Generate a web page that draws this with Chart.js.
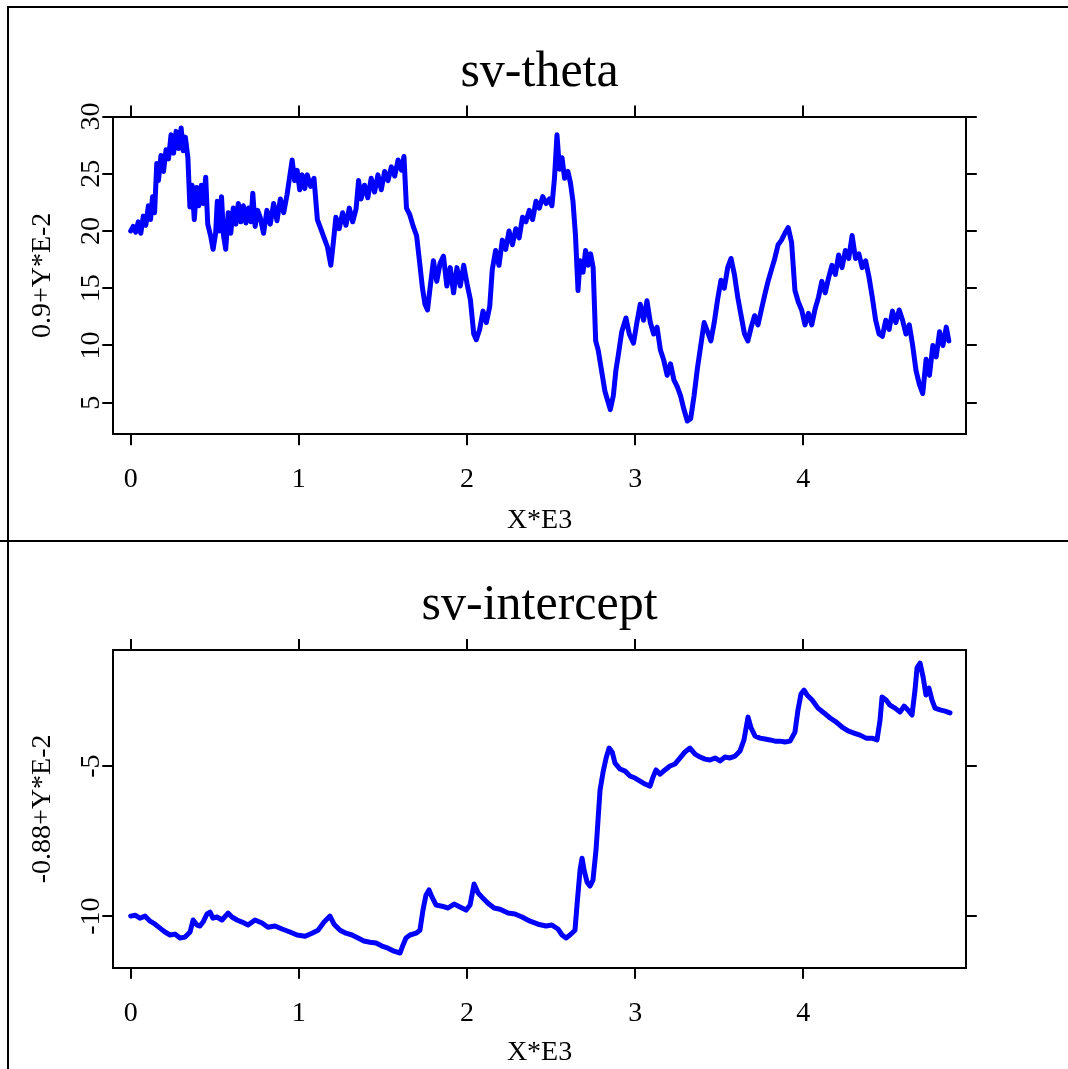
<!DOCTYPE html>
<html lang="en">
  <head>
    <meta charset="UTF-8" />
    <title>sv-theta / sv-intercept</title>
    <script src="https://cdn.jsdelivr.net/npm/chart.js@4.4.1/dist/chart.umd.min.js"></script>
    <style>
      body {
        margin: 0;
        background: #ffffff;
      }
      #page {
        position: relative;
        width: 1068px;
        height: 1069px;
        overflow: hidden;
      }
      .panel {
        position: absolute;
        left: 0;
        width: 1068px;
      }
      #top-panel {
        top: 0;
        height: 541px;
      }
      #bottom-panel {
        top: 541px;
        height: 528px;
      }
      .rule {
        position: absolute;
        background: #000000;
      }
    </style>
  </head>
  <body>
    <div id="page">
      <div class="rule" style="left: 7px; top: 6px; width: 1061px; height: 2px"></div>
      <div class="rule" style="left: 7px; top: 6px; width: 2px; height: 1063px"></div>
      <div class="rule" style="left: 0; top: 540px; width: 1068px; height: 2px"></div>
      <div class="panel" id="top-panel"><canvas id="thetaChart"></canvas></div>
      <div class="panel" id="bottom-panel"><canvas id="interceptChart"></canvas></div>
    </div>

    <script>
      // iteration (thousands) and sampled values
      const thetaX = [
        0.0, 0.015, 0.03, 0.045, 0.06, 0.075, 0.09, 0.105, 0.118, 0.13, 0.142, 0.155, 0.165, 0.18, 0.195,
        0.21, 0.225, 0.24, 0.255, 0.27, 0.285, 0.3, 0.312, 0.325, 0.34, 0.352, 0.365, 0.378, 0.392, 0.405,
        0.42, 0.432, 0.446, 0.458, 0.475, 0.49, 0.505, 0.515, 0.528, 0.54, 0.552, 0.565, 0.58, 0.595, 0.61,
        0.625, 0.64, 0.655, 0.67, 0.685, 0.7, 0.715, 0.726, 0.74, 0.755, 0.77, 0.79, 0.81, 0.83, 0.85,
        0.87, 0.89, 0.91, 0.93, 0.96, 0.975, 0.99, 1.005, 1.02, 1.035, 1.05, 1.07, 1.09, 1.11, 1.13,
        1.15, 1.17, 1.19, 1.205, 1.22, 1.24, 1.26, 1.28, 1.3, 1.32, 1.34, 1.355, 1.37, 1.39, 1.41,
        1.43, 1.45, 1.47, 1.49, 1.51, 1.53, 1.55, 1.57, 1.59, 1.61, 1.625, 1.64, 1.66, 1.68, 1.7,
        1.72, 1.735, 1.75, 1.765, 1.78, 1.8, 1.82, 1.84, 1.86, 1.88, 1.9, 1.92, 1.94, 1.96, 1.98,
        2.0, 2.02, 2.04, 2.055, 2.075, 2.095, 2.115, 2.135, 2.15, 2.17, 2.19, 2.21, 2.23, 2.25, 2.27,
        2.29, 2.31, 2.33, 2.35, 2.37, 2.39, 2.41, 2.43, 2.45, 2.47, 2.49, 2.505, 2.52, 2.535, 2.55,
        2.565, 2.58, 2.6, 2.615, 2.63, 2.645, 2.66, 2.672, 2.69, 2.705, 2.72, 2.735, 2.75, 2.765, 2.78,
        2.8, 2.82, 2.84, 2.852, 2.87, 2.885, 2.9, 2.92, 2.945, 2.965, 2.99, 3.01, 3.03, 3.05, 3.07,
        3.09, 3.11, 3.13, 3.15, 3.17, 3.19, 3.21, 3.23, 3.25, 3.27, 3.29, 3.31, 3.33, 3.35, 3.37,
        3.39, 3.41, 3.43, 3.45, 3.47, 3.49, 3.51, 3.53, 3.55, 3.57, 3.59, 3.61, 3.63, 3.65, 3.67,
        3.69, 3.71, 3.73, 3.75, 3.77, 3.79, 3.81, 3.83, 3.85, 3.87, 3.89, 3.91, 3.93, 3.95, 3.97,
        3.99, 4.01, 4.03, 4.05, 4.07, 4.09, 4.11, 4.13, 4.15, 4.17, 4.19, 4.21, 4.23, 4.25, 4.27,
        4.29, 4.31, 4.33, 4.35, 4.37, 4.39, 4.41, 4.43, 4.45, 4.47, 4.49, 4.51, 4.53, 4.55, 4.57,
        4.59, 4.61, 4.63, 4.65, 4.67, 4.69, 4.71, 4.73, 4.75, 4.77, 4.79, 4.81, 4.83, 4.85, 4.865,
      ];
      const thetaY = [
        20.0, 20.4, 19.9, 20.8, 19.8, 21.3, 20.5, 22.2, 21.0, 23.0, 21.6, 25.9, 24.4, 26.6, 25.2,
        27.1, 26.3, 28.4, 26.8, 28.7, 27.2, 29.0, 27.0, 28.2, 26.4, 22.1, 24.0, 21.0, 23.8, 22.2,
        24.0, 22.4, 24.7, 20.6, 19.6, 18.4, 19.8, 22.6, 20.0, 23.0, 19.6, 18.4, 21.6, 19.8, 22.0,
        20.6, 22.4, 20.8, 22.2, 20.7, 22.0, 20.8, 23.3, 20.4, 21.8, 21.2, 19.8, 21.8, 20.6, 22.4,
        20.9, 22.8, 21.6, 23.2, 26.2, 24.4, 25.3, 23.6, 24.9, 23.7, 24.9, 23.9, 24.6, 21.0, 20.2,
        19.4, 18.6, 17.0, 19.0, 21.2, 20.2, 21.6, 20.5, 22.0, 20.8, 21.9, 24.4, 22.8, 24.0, 22.9,
        24.6, 23.4, 24.9, 23.6, 25.2, 24.4, 25.6, 24.8, 26.2, 25.3, 26.5, 22.0, 21.4, 20.4, 19.6,
        17.0, 15.0, 13.6, 13.1, 15.0, 17.4, 15.6, 17.2, 17.8, 15.2, 16.8, 14.6, 16.8, 15.2, 17.0,
        15.4, 14.0, 11.0, 10.5, 11.4, 13.0, 12.0, 13.4, 16.6, 18.3, 17.0, 19.2, 18.4, 20.0, 18.8,
        20.2, 19.4, 21.2, 20.8, 21.8, 21.0, 22.6, 22.0, 23.0, 22.4, 22.8, 22.2, 24.6, 28.4, 25.4,
        26.4, 24.6, 25.2, 24.2, 22.6, 19.6, 14.8, 17.4, 16.4, 18.3, 17.0, 18.0, 16.8, 10.4, 9.6,
        7.8, 6.0, 5.0, 4.4, 5.6, 7.8, 9.2, 11.2, 12.4, 11.0, 10.2, 12.0, 13.6, 12.2, 13.9,
        12.0, 11.0, 11.6, 9.6, 8.7, 7.4, 8.4, 7.0, 6.4, 5.6, 4.4, 3.4, 3.6, 5.6, 8.0,
        10.0, 12.0, 11.2, 10.4, 12.0, 14.0, 15.7, 15.0, 16.8, 17.6, 16.2, 14.2, 12.6, 11.0, 10.4,
        11.6, 12.6, 11.8, 13.1, 14.4, 15.6, 16.6, 17.6, 18.8, 19.2, 19.8, 20.3, 19.0, 14.8, 13.8,
        13.1, 11.8, 12.8, 11.8, 13.2, 14.2, 15.6, 14.6, 15.9, 17.0, 16.2, 17.9, 16.8, 18.3, 17.6,
        19.6, 17.6, 18.0, 16.8, 17.4, 16.0, 14.2, 12.2, 11.0, 10.8, 12.2, 11.4, 13.0, 12.0, 13.1,
        12.2, 11.0, 11.8, 10.0, 7.8, 6.6, 5.8, 8.8, 7.4, 10.0, 9.0, 11.2, 10.0, 11.6, 10.4,
      ];

      const interceptX = [
        0.0, 0.026, 0.055, 0.085, 0.115, 0.145, 0.174, 0.204, 0.234, 0.263, 0.293, 0.323, 0.353, 0.371,
        0.394, 0.412, 0.43, 0.454, 0.472, 0.489, 0.513, 0.543, 0.579, 0.602, 0.632, 0.662, 0.698, 0.739,
        0.781, 0.816, 0.858, 0.9, 0.947, 0.989, 1.037, 1.078, 1.114, 1.15, 1.185, 1.209, 1.245, 1.28,
        1.316, 1.352, 1.387, 1.423, 1.459, 1.494, 1.53, 1.566, 1.602, 1.619, 1.637, 1.661, 1.697, 1.72,
        1.738, 1.756, 1.774, 1.792, 1.816, 1.851, 1.887, 1.923, 1.958, 1.994, 2.018, 2.042, 2.066,
        2.089, 2.125, 2.161, 2.196, 2.244, 2.285, 2.327, 2.375, 2.422, 2.47, 2.505, 2.541, 2.565, 2.589,
        2.612, 2.642, 2.654, 2.672, 2.684, 2.696, 2.714, 2.731, 2.749, 2.767, 2.779, 2.791, 2.809,
        2.827, 2.845, 2.863, 2.88, 2.91, 2.94, 2.969, 2.999, 3.029, 3.058, 3.088, 3.106, 3.124, 3.148,
        3.177, 3.207, 3.237, 3.267, 3.296, 3.326, 3.356, 3.386, 3.415, 3.445, 3.475, 3.504, 3.534,
        3.564, 3.594, 3.623, 3.647, 3.671, 3.689, 3.713, 3.742, 3.772, 3.802, 3.832, 3.861, 3.891,
        3.921, 3.95, 3.968, 3.986, 4.004, 4.022, 4.052, 4.087, 4.123, 4.159, 4.194, 4.23, 4.266, 4.301,
        4.337, 4.373, 4.408, 4.438, 4.456, 4.468, 4.492, 4.515, 4.545, 4.575, 4.599, 4.622, 4.646,
        4.664, 4.676, 4.694, 4.712, 4.729, 4.747, 4.765, 4.783, 4.813, 4.843, 4.872,
      ];
      const interceptY = [
        -10.0, -9.97, -10.07, -10.0, -10.17, -10.27, -10.4, -10.53, -10.63, -10.6, -10.73, -10.7, -10.53,
        -10.13, -10.3, -10.33, -10.2, -9.93, -9.87, -10.07, -10.03, -10.13, -9.9, -10.03, -10.13, -10.2,
        -10.3, -10.13, -10.23, -10.37, -10.33, -10.43, -10.53, -10.63, -10.67, -10.57, -10.47, -10.2,
        -10.0, -10.27, -10.47, -10.57, -10.63, -10.73, -10.83, -10.87, -10.9, -11.0, -11.07, -11.17,
        -11.23, -10.97, -10.73, -10.63, -10.57, -10.47, -9.8, -9.3, -9.13, -9.37, -9.63, -9.67, -9.73,
        -9.6, -9.7, -9.8, -9.63, -8.93, -9.23, -9.37, -9.57, -9.73, -9.77, -9.9, -9.93, -10.03, -10.17,
        -10.27, -10.33, -10.3, -10.43, -10.63, -10.73, -10.63, -10.47, -9.63, -8.47, -8.07, -8.47, -8.87,
        -9.0, -8.8, -7.8, -6.8, -5.8, -5.2, -4.73, -4.4, -4.53, -4.9, -5.1, -5.17, -5.33, -5.4, -5.5,
        -5.6, -5.67, -5.37, -5.13, -5.27, -5.13, -5.0, -4.93, -4.73, -4.53, -4.4, -4.6, -4.7, -4.77,
        -4.8, -4.73, -4.83, -4.7, -4.73, -4.67, -4.5, -4.13, -3.37, -3.73, -4.0, -4.07, -4.1, -4.13,
        -4.17, -4.17, -4.2, -4.17, -3.87, -3.13, -2.6, -2.47, -2.63, -2.8, -3.07, -3.23, -3.4, -3.53,
        -3.7, -3.83, -3.9, -3.97, -4.07, -4.07, -4.13, -3.47, -2.7, -2.8, -2.97, -3.07, -3.2, -3.0,
        -3.13, -3.3, -2.47, -1.73, -1.57, -2.03, -2.63, -2.4, -2.8, -3.07, -3.13, -3.17, -3.23,
      ];

      const xTicks = [0, 1, 2, 3, 4];
      const thetaTicks = [5, 10, 15, 20, 25, 30];
      const interceptTicks = [-10, -5];

      const SERIF = "'Liberation Serif', 'Times New Roman', serif";
      const BLUE = "#0000ff";

      function toPoints(xs, ys) {
        return xs.map((x, i) => ({ x: x, y: ys[i] }));
      }

      // one framed trace panel: bottom/left axes carry labels, top/right only tick marks
      function makePanel(canvasId, opt) {
        const setTicks = (vals) => (scale) => {
          scale.ticks = vals.map((v) => ({ value: v }));
        };
        const border = { display: true, color: "#000", width: 2 };
        const grid = {
          drawOnChartArea: false,
          drawTicks: true,
          tickLength: 11,
          lineWidth: 2,
          tickWidth: 2,
          color: "#000",
          tickColor: "#000",
        };
        const tickFont = { family: SERIF, size: 28 };

        return new Chart(document.getElementById(canvasId), {
          type: "line",
          data: {
            datasets: [
              {
                data: toPoints(opt.xs, opt.ys),
                borderColor: BLUE,
                borderWidth: 5,
                borderJoinStyle: "round",
                borderCapStyle: "round",
                pointRadius: 0,
                tension: 0,
                fill: false,
              },
            ],
          },
          options: {
            responsive: true,
            maintainAspectRatio: false,
            animation: false,
            devicePixelRatio: 1,
            layout: { padding: 0 },
            plugins: {
              legend: { display: false },
              tooltip: { enabled: false },
              title: {
                display: true,
                text: opt.title,
                fullSize: false,
                color: "#000",
                font: { family: SERIF, size: 50, weight: "normal", lineHeight: 1 },
                padding: { top: opt.titlePad, bottom: 0 },
              },
            },
            scales: {
              x: {
                type: "linear",
                position: "bottom",
                min: -0.1035,
                max: 4.966,
                border: border,
                grid: grid,
                afterBuildTicks: setTicks(xTicks),
                afterFit: (s) => {
                  s.height = opt.bottomH;
                },
                ticks: {
                  autoSkip: false,
                  maxRotation: 0,
                  padding: 18,
                  color: "#000",
                  font: tickFont,
                  callback: (v) => String(v),
                },
                title: {
                  display: true,
                  text: "X*E3",
                  color: "#000",
                  font: { family: SERIF, size: 28, lineHeight: 1 },
                  padding: { top: 0, bottom: opt.xTitlePad },
                },
              },
              x2: {
                type: "linear",
                position: "top",
                min: -0.1035,
                max: 4.966,
                border: border,
                grid: grid,
                afterBuildTicks: setTicks(xTicks),
                afterFit: (s) => {
                  s.height = opt.topH;
                },
                ticks: { display: false },
              },
              y: {
                type: "linear",
                position: "left",
                min: opt.yMin,
                max: opt.yMax,
                border: border,
                grid: grid,
                afterBuildTicks: setTicks(opt.yTicks),
                afterFit: (s) => {
                  s.width = 113.3;
                },
                ticks: {
                  autoSkip: false,
                  minRotation: 90,
                  maxRotation: 90,
                  crossAlign: "center",
                  padding: opt.yTickPad,
                  color: "#000",
                  font: tickFont,
                  callback: (v) => String(v),
                },
                title: {
                  display: true,
                  text: opt.yTitle,
                  color: "#000",
                  font: { family: SERIF, size: 28, lineHeight: 1 },
                  padding: { top: 29, bottom: 0 },
                },
              },
              y2: {
                type: "linear",
                position: "right",
                min: opt.yMin,
                max: opt.yMax,
                border: border,
                grid: grid,
                afterBuildTicks: setTicks(opt.yTicks),
                afterFit: (s) => {
                  s.width = 102.2;
                },
                ticks: { display: false },
              },
            },
          },
        });
      }

      makePanel("thetaChart", {
        xs: thetaX,
        ys: thetaY,
        title: "sv-theta",
        titlePad: 48,
        topH: 18.5,
        bottomH: 106.7,
        xTitlePad: 6,
        yMin: 2.24,
        yMax: 30,
        yTicks: thetaTicks,
        yTickPad: -3.7,
        yTitle: "0.9+Y*E-2",
      });

      makePanel("interceptChart", {
        xs: interceptX,
        ys: interceptY,
        title: "sv-intercept",
        titlePad: 40,
        topH: 19,
        bottomH: 101.3,
        xTitlePad: 2,
        yMin: -11.72,
        yMax: -1.133,
        yTicks: interceptTicks,
        yTickPad: -8.1,
        yTitle: "-0.88+Y*E-2",
      });
    </script>
  </body>
</html>
